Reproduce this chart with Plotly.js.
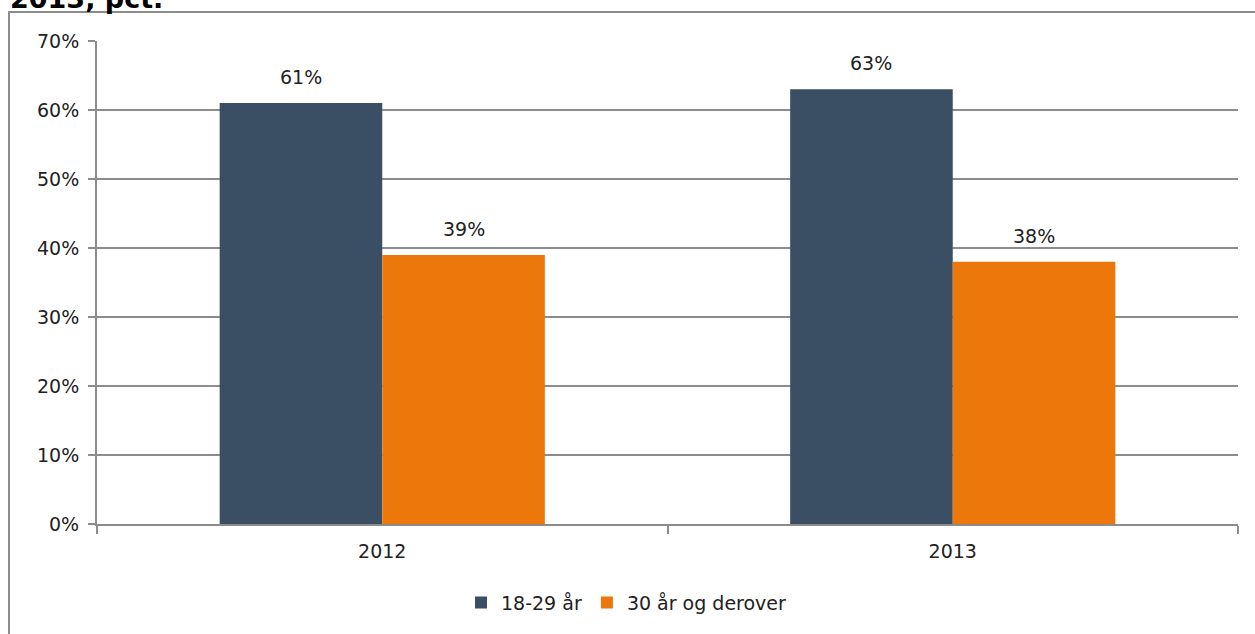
<!DOCTYPE html>
<html>
<head>
<meta charset="utf-8">
<script src="https://cdn.plot.ly/plotly-3.0.1.min.js"></script>
<style>html,body{margin:0;padding:0;background:#fff;}#chart{width:1255px;height:634px;}</style>
</head>
<body>
<div id="chart"></div>
<script>
const categories = ["2012", "2013"];
const seriesNames = ["18-29 år", "30 år og derover"];
const young = [61, 63];
const older = [39, 38];
const yTicks = [0, 10, 20, 30, 40, 50, 60, 70];
const yTickLabels = ["0%", "10%", "20%", "30%", "40%", "50%", "60%", "70%"];
const titleText = "2013, pct.";

const W = 1255, H = 634;
const m = {l: 97, r: 17, t: 41, b: 108};
const pw = W - m.l - m.r, ph = H - m.t - m.b;
const px = x => (x - m.l) / pw;
const py = y => 1 - (y - m.t) / ph;

const font = "DejaVu Sans, Verdana, sans-serif";
const fs = 19;
const bargap = 0.43;
const barW = pw / categories.length * (1 - bargap) / 2;
const colors = ["#3a4f63", "#ec780c"];
const series = [young, older];

const traces = series.map((vals, i) => ({
  type: "bar", name: seriesNames[i], x: categories, y: vals,
  marker: {color: colors[i]}, hoverinfo: "none"
}));

const labelAnnotations = [];
series.forEach((vals, i) => {
  vals.forEach((v, j) => {
    labelAnnotations.push({
      x: j, y: v, xref: "x", yref: "y", text: v + "%",
      showarrow: false, xanchor: "center", yanchor: "bottom",
      xshift: (i === 0 ? -1 : 1) * barW / 2, yshift: 13,
      font: {family: font, size: fs, color: "#222"}
    });
  });
});

const layout = {
  width: W, height: H,
  margin: m,
  paper_bgcolor: "#fff", plot_bgcolor: "#fff",
  barmode: "group", bargap: bargap, bargroupgap: 0,
  showlegend: true,
  legend: {orientation: "h", x: px(461), xanchor: "left", y: py(605), yanchor: "middle",
           font: {family: font, size: fs, color: "#222"}, itemwidth: 30, traceorder: "normal"},
  xaxis: {type: "category", range: [-0.5, categories.length - 0.5], autorange: false,
          showgrid: false, showline: true, linecolor: "#8c8c8c", linewidth: 2,
          ticks: "outside", tickson: "boundaries", ticklen: 8, tickcolor: "#8c8c8c", tickwidth: 2,
          tickangle: 0,
          tickfont: {family: font, size: fs, color: "#222"}, zeroline: false, ticklabelstandoff: 9},
  yaxis: {range: [0, 70], autorange: false, tickvals: yTicks, ticktext: yTickLabels, showgrid: true,
          gridcolor: "#8c8c8c", gridwidth: 1.5, showline: true, linecolor: "#8c8c8c", linewidth: 2,
          ticks: "outside", ticklen: 7, tickcolor: "#8c8c8c", tickwidth: 2, zeroline: false,
          tickfont: {family: font, size: fs, color: "#222"}, ticklabelstandoff: 5},
  shapes: [
    {type: "rect", xref: "paper", yref: "paper", x0: px(9), x1: px(1300), y0: py(700), y1: py(12),
     line: {color: "#8c8c8c", width: 2}, fillcolor: "rgba(0,0,0,0)", layer: "below"}
  ],
  annotations: [
    {text: "<b>" + titleText + "</b>", xref: "paper", yref: "paper", x: px(8), y: py(16),
     xanchor: "left", yanchor: "bottom", showarrow: false,
     font: {family: "DejaVu Sans, Verdana, sans-serif", size: 27, color: "#000"}}
  ].concat(labelAnnotations)
};

Plotly.newPlot("chart", traces, layout, {displayModeBar: false, staticPlot: true});
</script>
</body>
</html>
